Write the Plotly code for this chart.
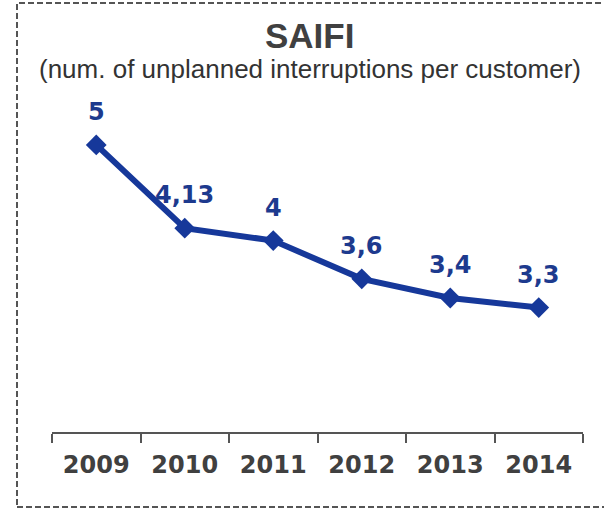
import plotly.graph_objects as go

# SAIFI per year
years = ["2009", "2010", "2011", "2012", "2013", "2014"]
saifi = [5, 4.13, 4, 3.6, 3.4, 3.3]

LINE_BLUE = "#16389a"
LABEL_BLUE = "#1d3a8e"
GREY = "#404040"

W, H = 604, 510
L, R, T, B = 52, 21, 100, 78
plot_w = W - L - R
plot_h = H - T - B


def px_to_paper_x(px):
    return (px - L) / plot_w


def px_to_paper_y(py):
    return (H - B - py) / plot_h


fig = go.Figure()
fig.add_trace(go.Scatter(
    x=years, y=saifi,
    mode="lines+markers",
    line=dict(color=LINE_BLUE, width=6),
    marker=dict(symbol="diamond", size=16, color=LINE_BLUE),
    hoverinfo="skip",
))

# value labels above each point, decimal comma
for i, v in enumerate(saifi):
    fig.add_annotation(
        x=i, y=v, xref="x", yref="y",
        text="<b>" + f"{v:g}".replace(".", ",") + "</b>",
        showarrow=False, yshift=33, yanchor="middle",
        font=dict(family="DejaVu Sans", size=24, color=LABEL_BLUE),
    )

# title and subtitle
fig.add_annotation(
    x=px_to_paper_x(309), y=px_to_paper_y(35), xref="paper", yref="paper",
    text="<b>SAIFI</b>", showarrow=False, yanchor="middle",
    font=dict(family="Liberation Sans", size=35, color=GREY),
)
fig.add_annotation(
    x=px_to_paper_x(310), y=px_to_paper_y(69), xref="paper", yref="paper",
    text="(num. of unplanned interruptions per customer)", showarrow=False,
    yanchor="middle",
    font=dict(family="Liberation Sans", size=26, color="#333333"),
)

# dashed frame around the chart
fig.add_shape(
    type="rect", xref="paper", yref="paper",
    x0=px_to_paper_x(17), x1=px_to_paper_x(660),
    y0=px_to_paper_y(507), y1=px_to_paper_y(3),
    line=dict(color="#555555", width=2, dash="6px,3px"),
    fillcolor="rgba(0,0,0,0)",
)

fig.update_layout(
    width=W, height=H,
    margin=dict(l=L, r=R, t=T, b=B),
    paper_bgcolor="white", plot_bgcolor="white",
    showlegend=False,
    xaxis=dict(
        type="category",
        tickson="boundaries",
        ticks="outside", ticklen=9, tickwidth=1.5, tickcolor="#555555",
        showline=True, linecolor="#555555", linewidth=1.5,
        showgrid=False, zeroline=False,
        ticklabelstandoff=10,
        tickfont=dict(family="DejaVu Sans", size=24, color=GREY, weight="bold"),
        range=[-0.5, 5.5],
    ),
    yaxis=dict(
        range=[2.0, 5.469],
        visible=False, showgrid=False, zeroline=False,
    ),
)

fig.write_html("out.html")
